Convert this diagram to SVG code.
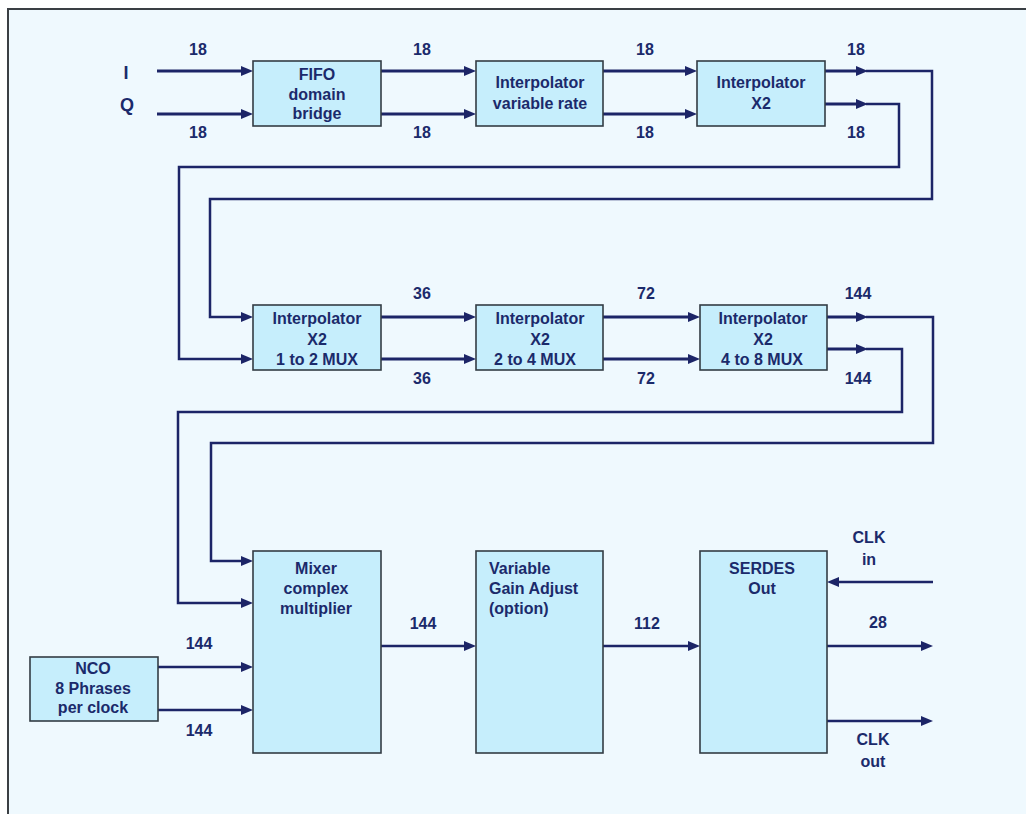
<svg xmlns="http://www.w3.org/2000/svg" width="1026" height="814" viewBox="0 0 1026 814">
<style>
.box{fill:#c6eefc;stroke:#333c44;stroke-width:1.6}
.t{font-family:"Liberation Sans",Arial,sans-serif;font-weight:bold;font-size:16px;fill:#1b2a6b;text-anchor:middle}
.l{text-anchor:start}
.big{font-size:18px}
.w{fill:none;stroke:#1c2567;stroke-width:3}
.n{fill:none;stroke:#1c2567;stroke-width:2.5}
</style>
<defs>
<marker id="ah" viewBox="0 0 12 10" refX="6" refY="5" markerWidth="12" markerHeight="10" markerUnits="userSpaceOnUse" orient="auto">
<path d="M0,0 L12,5 L0,10 z" fill="#1c2567"/>
</marker>
</defs>
<rect x="0" y="0" width="1026" height="814" fill="#ffffff"/>
<rect x="8" y="9" width="1040" height="830" fill="#eff9fe" stroke="#3a3f44" stroke-width="2"/>

<g id="connectors">
<path class="w" d="M157,71 H247" marker-end="url(#ah)"/>
<path class="w" d="M157,114 H247" marker-end="url(#ah)"/>
<path class="w" d="M381,71 H470" marker-end="url(#ah)"/>
<path class="w" d="M381,114 H470" marker-end="url(#ah)"/>
<path class="w" d="M603,71 H691" marker-end="url(#ah)"/>
<path class="w" d="M603,114 H691" marker-end="url(#ah)"/>
<path class="w" d="M825,71 H862" marker-end="url(#ah)"/>
<path class="w" d="M825,104 H862" marker-end="url(#ah)"/>
<path class="n" d="M866,71 H932 V199 H210 V317 H247" marker-end="url(#ah)"/>
<path class="n" d="M866,104 H899 V167 H179 V359 H247" marker-end="url(#ah)"/>
<path class="w" d="M381,317 H470" marker-end="url(#ah)"/>
<path class="w" d="M381,359 H470" marker-end="url(#ah)"/>
<path class="w" d="M603,317 H694" marker-end="url(#ah)"/>
<path class="w" d="M603,359 H694" marker-end="url(#ah)"/>
<path class="w" d="M827,317 H862" marker-end="url(#ah)"/>
<path class="w" d="M827,349 H862" marker-end="url(#ah)"/>
<path class="n" d="M866,317 H933 V443 H211 V561 H247" marker-end="url(#ah)"/>
<path class="n" d="M866,349 H902 V412 H178 V603 H247" marker-end="url(#ah)"/>
<path class="n" d="M158,667 H247" marker-end="url(#ah)"/>
<path class="n" d="M158,710 H247" marker-end="url(#ah)"/>
<path class="n" d="M381,646 H470" marker-end="url(#ah)"/>
<path class="n" d="M603,646 H694" marker-end="url(#ah)"/>
<path class="n" d="M933,582 H833" marker-end="url(#ah)"/>
<path class="n" d="M827,646 H927" marker-end="url(#ah)"/>
<path class="n" d="M827,721 H927" marker-end="url(#ah)"/>
</g>

<g id="labels">
<text class="t big" x="126" y="79">I</text>
<text class="t big" x="127" y="111">Q</text>
<text class="t" x="198" y="55">18</text>
<text class="t" x="198" y="138">18</text>
<text class="t" x="422" y="55">18</text>
<text class="t" x="422" y="138">18</text>
<text class="t" x="645" y="55">18</text>
<text class="t" x="645" y="138">18</text>
<text class="t" x="856" y="55">18</text>
<text class="t" x="856" y="138">18</text>
<text class="t" x="422" y="299">36</text>
<text class="t" x="422" y="384">36</text>
<text class="t" x="646" y="299">72</text>
<text class="t" x="646" y="384">72</text>
<text class="t" x="858" y="299">144</text>
<text class="t" x="858" y="384">144</text>
<text class="t" x="199" y="649">144</text>
<text class="t" x="199" y="736">144</text>
<text class="t" x="423" y="629">144</text>
<text class="t" x="647" y="629">112</text>
<text class="t" x="878" y="628">28</text>
<text class="t" x="869" y="543">CLK</text>
<text class="t" x="869" y="565">in</text>
<text class="t" x="873" y="745">CLK</text>
<text class="t" x="873" y="767">out</text>
</g>

<g id="fifo">
<rect class="box" x="253" y="61" width="128" height="65"/>
<text class="t" x="317" y="80">FIFO</text>
<text class="t" x="317" y="100">domain</text>
<text class="t" x="317" y="119">bridge</text>
</g>
<g id="interp-var">
<rect class="box" x="476" y="61" width="127" height="65"/>
<text class="t" x="540" y="88">Interpolator</text>
<text class="t" x="540" y="109">variable rate</text>
</g>
<g id="interp-x2-a">
<rect class="box" x="697" y="61" width="128" height="65"/>
<text class="t" x="761" y="88">Interpolator</text>
<text class="t" x="761" y="109">X2</text>
</g>
<g id="interp-x2-1to2">
<rect class="box" x="253" y="305" width="128" height="65"/>
<text class="t" x="317" y="323.5">Interpolator</text>
<text class="t" x="317" y="344.5">X2</text>
<text class="t" x="317" y="364.5">1 to 2 MUX</text>
</g>
<g id="interp-x2-2to4">
<rect class="box" x="476" y="305" width="127" height="65"/>
<text class="t" x="540" y="323.5">Interpolator</text>
<text class="t" x="540" y="344.5">X2</text>
<text class="t" x="535" y="364.5">2 to 4 MUX</text>
</g>
<g id="interp-x2-4to8">
<rect class="box" x="700" y="305" width="127" height="65"/>
<text class="t" x="763" y="323.5">Interpolator</text>
<text class="t" x="763" y="344.5">X2</text>
<text class="t" x="762" y="364.5">4 to 8 MUX</text>
</g>
<g id="nco">
<rect class="box" x="30" y="657" width="128" height="64"/>
<text class="t" x="93" y="674">NCO</text>
<text class="t" x="93" y="694">8 Phrases</text>
<text class="t" x="93" y="713">per clock</text>
</g>
<g id="mixer">
<rect class="box" x="253" y="551" width="128" height="202"/>
<text class="t" x="316" y="573.5">Mixer</text>
<text class="t" x="316" y="594">complex</text>
<text class="t" x="316" y="614">multiplier</text>
</g>
<g id="vga">
<rect class="box" x="476" y="551" width="127" height="202"/>
<text class="t l" x="489" y="573.5">Variable</text>
<text class="t l" x="489" y="594">Gain Adjust</text>
<text class="t l" x="489" y="614">(option)</text>
</g>
<g id="serdes">
<rect class="box" x="700" y="551" width="127" height="202"/>
<text class="t" x="762" y="573.5">SERDES</text>
<text class="t" x="762" y="594">Out</text>
</g>
</svg>
